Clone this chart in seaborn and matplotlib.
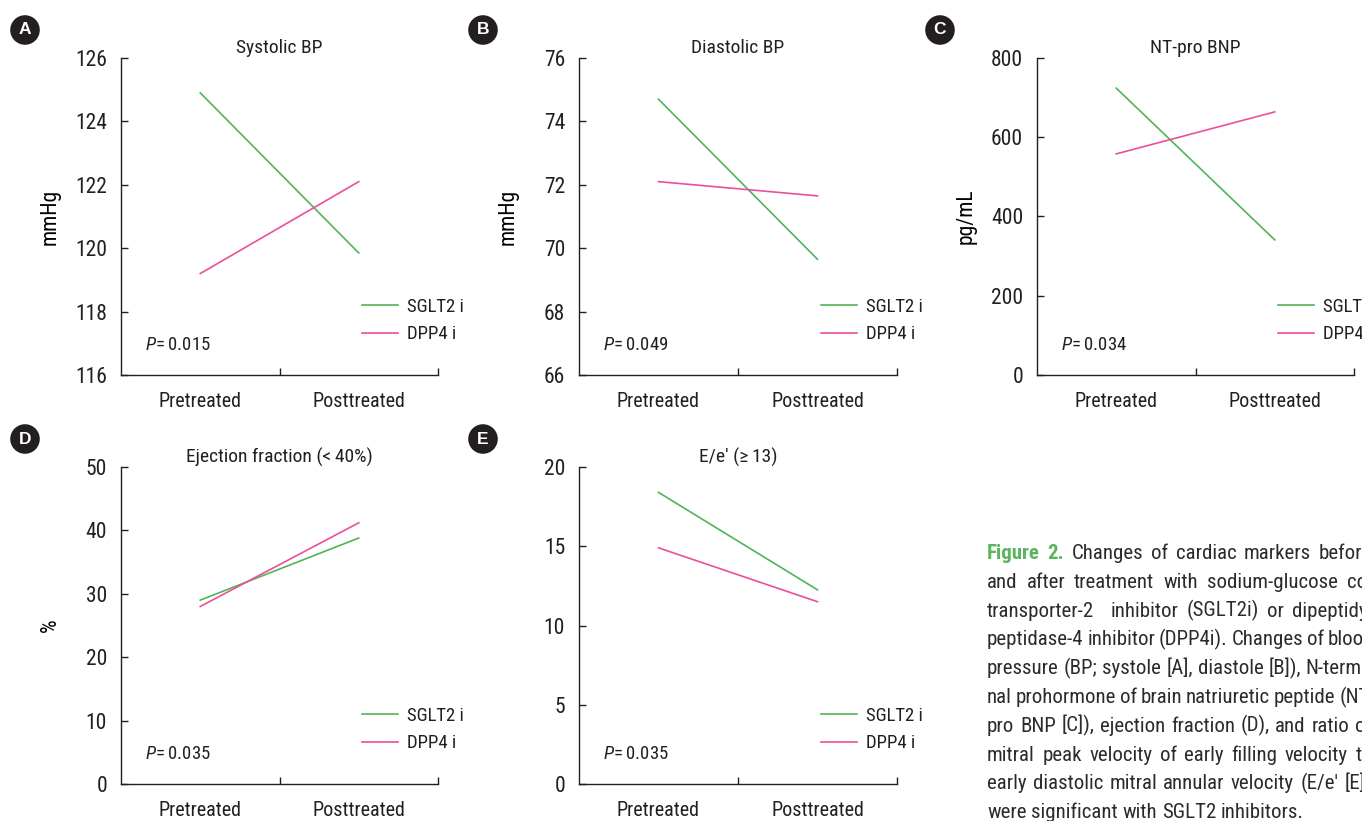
import matplotlib
matplotlib.use("Agg")
import matplotlib.pyplot as plt
from matplotlib import font_manager as fm
import seaborn as sns
import pandas as pd

# ---------------- data ----------------
times = ["Pretreated", "Posttreated"]
groups = ["SGLT2 i", "DPP4 i"]

sbp_sglt2 = [124.9, 119.85]
sbp_dpp4 = [119.2, 122.1]
dbp_sglt2 = [74.7, 69.65]
dbp_dpp4 = [72.1, 71.65]
bnp_sglt2 = [724, 341]
bnp_dpp4 = [558, 664]
ef_sglt2 = [29.0, 38.8]
ef_dpp4 = [28.0, 41.2]
ee_sglt2 = [18.4, 12.25]
ee_dpp4 = [14.9, 11.5]

titles = ["Systolic BP", "Diastolic BP", "NT-pro BNP",
          "Ejection fraction (<\u200940%)", "E/e\u2032 (\u2265\u200913)"]
ylabels = ["mmHg", "mmHg", "pg/mL", "%", ""]
pvalues = ["0.015", "0.049", "0.034", "0.035", "0.035"]
panel_letters = ["A", "B", "C", "D", "E"]
yticks_list = [[116, 118, 120, 122, 124, 126],
               [66, 68, 70, 72, 74, 76],
               [0, 200, 400, 600, 800],
               [0, 10, 20, 30, 40, 50],
               [0, 5, 10, 15, 20]]

caption_head = "Figure 2."
caption_lines = [
    "Changes of cardiac markers before",
    "and after treatment with sodium-glucose co-",
    "transporter-2  inhibitor (SGLT2i) or dipeptidyl",
    "peptidase-4 inhibitor (DPP4i). Changes of blood",
    "pressure (BP; systole [A], diastole [B]), N-termi-",
    "nal prohormone of brain natriuretic peptide (NT-",
    "pro BNP [C]), ejection fraction (D), and ratio of",
    "mitral peak velocity of early filling velocity to",
    "early diastolic mitral annular velocity (E/e\u2032 [E])",
    "were significant with SGLT2 inhibitors.",
]

# ---------------- style ----------------
available = {f.name for f in fm.fontManager.ttflist}
main_font = "DejaVu Sans"
for cand in ["Roboto Condensed", "Archivo Narrow", "PT Sans Narrow",
             "Liberation Sans Narrow", "Open Sans Condensed", "Barlow Condensed"]:
    if cand in available:
        main_font = cand
        break
FONT = [main_font, "DejaVu Sans"]
TXT = "#231f20"
GREEN = "#4fb556"
PINK = "#ec4f9a"
plt.rcParams["font.family"] = FONT
plt.rcParams["mathtext.fontset"] = "custom"
plt.rcParams["mathtext.rm"] = main_font
plt.rcParams["mathtext.it"] = main_font + ":italic"
plt.rcParams["text.color"] = TXT
plt.rcParams["axes.edgecolor"] = TXT
plt.rcParams["xtick.color"] = TXT
plt.rcParams["ytick.color"] = TXT

FS_YTICK = 15.5
FS_XTICK = 14.5
FS_TITLE = 14
FS_LEG = 13.5
FS_P = 13.5
FS_CAP = 15

W, H = 1362, 821
fig = plt.figure(figsize=(W / 100, H / 100), dpi=100)

def px_axes(left, top, right, bottom):
    return fig.add_axes([left / W, 1 - bottom / H, (right - left) / W, (bottom - top) / H])

axes_px = [(121, 58, 438, 375), (579, 58, 897, 375), (1037, 58, 1354, 375),
           (121, 467, 438, 784), (579, 467, 897, 784)]

series = [(sbp_sglt2, sbp_dpp4), (dbp_sglt2, dbp_dpp4), (bnp_sglt2, bnp_dpp4),
          (ef_sglt2, ef_dpp4), (ee_sglt2, ee_dpp4)]

for i, (pos, (s, d)) in enumerate(zip(axes_px, series)):
    ax = px_axes(*pos)
    df = pd.DataFrame({
        "time": times + times,
        "value": list(s) + list(d),
        "group": [groups[0]] * 2 + [groups[1]] * 2,
    })
    sns.lineplot(data=df, x="time", y="value", hue="group", hue_order=groups,
                 palette=[GREEN, PINK], linewidth=1.2, ax=ax, sort=False)
    yt = yticks_list[i]
    ax.set_ylim(yt[0], yt[-1])
    ax.set_yticks(yt)
    ax.set_xlim(-0.5, 1.5)
    ax.set_xticks([0, 1])
    ax.set_xticklabels(times)
    ax.set_xticks([0.5, 1.5], minor=True)
    ax.tick_params(axis="x", which="major", length=0, pad=12, labelsize=FS_XTICK)
    ax.tick_params(axis="x", which="minor", direction="in", length=5, width=1)
    ax.tick_params(axis="y", direction="in", length=5, width=1, pad=10, labelsize=FS_YTICK)
    for sp in ["top", "right"]:
        ax.spines[sp].set_visible(False)
    for sp in ["left", "bottom"]:
        ax.spines[sp].set_linewidth(1)
    ax.set_xlabel("")
    ax.set_ylabel(ylabels[i], fontsize=FS_YTICK)
    ax.yaxis.set_label_coords(-0.19, 0.5)
    ax.text(0.5, 1.015, titles[i], transform=ax.transAxes, ha="center",
            va="baseline", fontsize=FS_TITLE)
    ax.text(0.076, 0.095, r"$\mathit{P}$=" + "\u2009" + pvalues[i], transform=ax.transAxes,
            ha="left", va="center", fontsize=FS_P)
    ax.legend(loc="center left", bbox_to_anchor=(0.76, 0.1715), frameon=False,
              fontsize=FS_LEG, handlelength=1.92, handletextpad=0.48,
              labelspacing=0.5, borderaxespad=0, borderpad=0)
    ax.patch.set_alpha(0)

# panel letters
letter_pos = [(25, 30), (483, 30), (940, 30), (25, 439), (483, 439)]
for (x, y), L in zip(letter_pos, panel_letters):
    fig.text(x / W, 1 - y / H, L, ha="center", va="center", color="white",
             fontsize=12.5, fontweight="bold", family=["Liberation Sans", "DejaVu Sans"],
             bbox=dict(boxstyle="circle,pad=0.42", fc=TXT, ec="none"))

# caption (justified, runs off the right edge as in the reference)
renderer = fig.canvas.get_renderer()
x_left = 987
x_right = 1372
base0 = 559
step = 28.8
CAP_COLOR = "#2b2b2b"
HEAD_COLOR = "#5ab55e"

def width_px(txt, **kw):
    t = fig.text(0, 0, txt, fontsize=FS_CAP, **kw)
    w = t.get_window_extent(renderer=renderer).width
    t.remove()
    return w

space_w = width_px("a a") - width_px("aa")
for k, line in enumerate(caption_lines):
    y = 1 - (base0 + k * step) / H
    tokens = []
    if k == 0:
        for wd in caption_head.split(" "):
            tokens.append((wd, dict(color=HEAD_COLOR, fontweight="bold")))
    for wd in line.split(" "):
        tokens.append((wd, dict(color=CAP_COLOR)))
    widths = [width_px(t, **kw) if t else 0.0 for t, kw in tokens]
    last = k == len(caption_lines) - 1
    if last or len(tokens) < 2:
        gap = space_w
    else:
        gap = max(space_w * 0.8, (x_right - x_left - sum(widths)) / (len(tokens) - 1))
    x = x_left
    for (t, kw), w in zip(tokens, widths):
        if t:
            fig.text(x / W, y, t, fontsize=FS_CAP, va="baseline", ha="left", **kw)
        x += w + gap

fig.savefig("out.png", dpi=100)
